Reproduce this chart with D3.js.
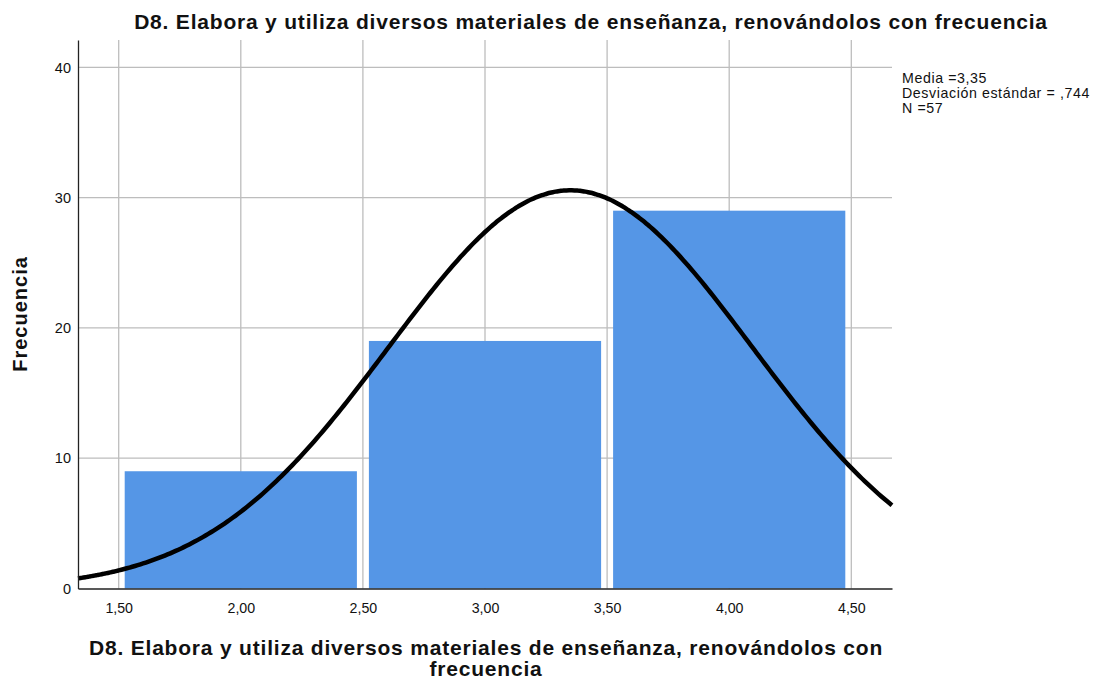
<!DOCTYPE html>
<html>
<head>
<meta charset="utf-8">
<script src="https://cdn.jsdelivr.net/npm/d3@7"></script>
<style>
  html, body { margin: 0; padding: 0; background: #fff; }
  svg { display: block; font-family: "Liberation Sans", Arial, sans-serif; }
</style>
</head>
<body>
<svg id="chart" width="1094" height="684"></svg>
<script>
// Histogram bins (lower edge, upper edge) and their frequencies
const binStarts = [1.5, 2.5, 3.5];
const binEnds = [2.5, 3.5, 4.5];
const frequencies = [9, 19, 29];

// Axis ticks
const xTicks = [1.5, 2.0, 2.5, 3.0, 3.5, 4.0, 4.5];
const yTicks = [0, 10, 20, 30, 40];

// Summary statistics used for the normal curve
const mean = 3.35;
const stdDev = 0.744;
const n = 57;
const binWidth = 1;

const title = "D8. Elabora y utiliza diversos materiales de enseñanza, renovándolos con frecuencia";
const xTitleLines = ["D8. Elabora y utiliza diversos materiales de enseñanza, renovándolos con", "frecuencia"];
const yTitle = "Frecuencia";
const statsLines = ["Media =3,35", "Desviación estándar = ,744", "N =57"];

const svg = d3.select("#chart");
const plot = { left: 78, right: 892, top: 40, bottom: 588.5 };

const x = d3.scaleLinear().domain([1.5 - 1 / 6, 4.5 + 1 / 6]).range([plot.left, plot.right]);
const y = d3.scaleLinear().domain([0, 42.1]).range([plot.bottom, plot.top]);

const fmt = v => d3.format(".2f")(v).replace(".", ",");
const FONT = "Liberation Sans, Arial, sans-serif";

// Grid lines
const grid = svg.append("g").attr("stroke", "#bdbdbd").attr("stroke-width", 1.3);
grid.selectAll("line.v").data(xTicks).join("line")
  .attr("x1", d => x(d)).attr("x2", d => x(d))
  .attr("y1", plot.top).attr("y2", plot.bottom);
grid.selectAll("line.h").data(yTicks.filter(d => d > 0)).join("line")
  .attr("x1", plot.left).attr("x2", plot.right)
  .attr("y1", d => y(d)).attr("y2", d => y(d));

// Bars
const inset = 6;
svg.append("g").selectAll("rect").data(frequencies).join("rect")
  .attr("x", (d, i) => x(binStarts[i]) + inset)
  .attr("width", (d, i) => x(binEnds[i]) - x(binStarts[i]) - 2 * inset)
  .attr("y", d => y(d))
  .attr("height", d => y(0) - y(d))
  .attr("fill", "#5596e6");

// Normal curve scaled to counts
const pdf = v => Math.exp(-0.5 * ((v - mean) / stdDev) ** 2) / (stdDev * Math.sqrt(2 * Math.PI));
const xs = d3.range(0, 301).map(i => x.domain()[0] + (x.domain()[1] - x.domain()[0]) * i / 300);
svg.append("path")
  .datum(xs)
  .attr("fill", "none")
  .attr("stroke", "#000")
  .attr("stroke-width", 4.5)
  .attr("stroke-linecap", "butt")
  .attr("d", d3.line().x(v => x(v)).y(v => y(n * binWidth * pdf(v))).curve(d3.curveBasis));

// Axes
const xAxis = d3.axisBottom(x).tickValues(xTicks).tickFormat(fmt).tickSize(0).tickPadding(14);
const gx = svg.append("g").attr("transform", `translate(0,${plot.bottom})`).call(xAxis);
gx.select(".domain").attr("stroke", "#222").attr("stroke-width", 1.3);
gx.selectAll("text").attr("font-size", 14.2).attr("fill", "#111").attr("font-family", FONT);

const yAxis = d3.axisLeft(y).tickValues(yTicks).tickFormat(d3.format("d")).tickSize(0).tickPadding(7);
const gy = svg.append("g").attr("transform", `translate(${plot.left},0)`).call(yAxis);
gy.select(".domain").attr("stroke", "#222").attr("stroke-width", 1.3);
gy.selectAll("text").attr("font-size", 14.5).attr("fill", "#111").attr("font-family", FONT);

// Titles
svg.append("text")
  .attr("x", 591).attr("y", 29)
  .attr("text-anchor", "middle")
  .attr("font-size", 21).attr("font-weight", "bold").attr("letter-spacing", 0.8).attr("fill", "#111")
  .text(title);

svg.append("text")
  .attr("text-anchor", "middle")
  .attr("font-size", 21).attr("font-weight", "bold").attr("letter-spacing", 0.8).attr("fill", "#111")
  .selectAll("tspan").data(xTitleLines).join("tspan")
  .attr("x", 486).attr("y", (d, i) => 655 + i * 21)
  .text(d => d);

svg.append("text")
  .attr("transform", `translate(27,314) rotate(-90)`)
  .attr("text-anchor", "middle")
  .attr("font-size", 20).attr("font-weight", "bold").attr("letter-spacing", 1).attr("fill", "#111")
  .text(yTitle);

// Summary statistics
svg.append("text")
  .attr("font-size", 14.2).attr("letter-spacing", 0.6).attr("fill", "#111")
  .selectAll("tspan").data(statsLines).join("tspan")
  .attr("x", 902).attr("y", (d, i) => 83 + i * 15)
  .text(d => d);
</script>
</body>
</html>
